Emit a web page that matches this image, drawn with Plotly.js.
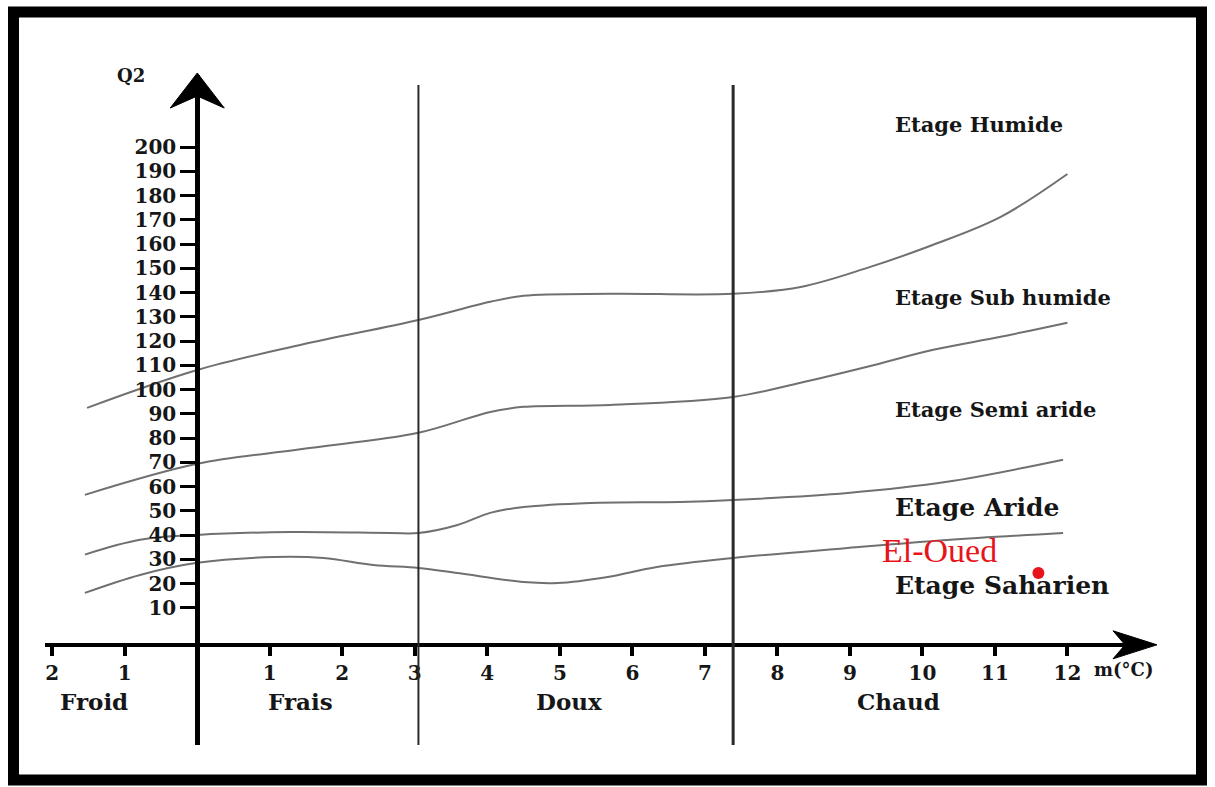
<!DOCTYPE html>
<html>
<head>
<meta charset="utf-8">
<script src="https://cdn.plot.ly/plotly-3.0.1.min.js"></script>
<style>
html,body{margin:0;padding:0;background:#fff;}
#chart{width:1215px;height:787px;}
</style>
</head>
<body>
<div id="chart"></div>
<script>
// ---- data (m in °C, Q2) ----
const humideX    = [-1.52, 0, 1.42, 3.05, 4.04, 4.50, 5.70, 7.39, 8.32, 9.24, 10.15, 11.08, 12.0];
const humideY    = [92.5, 108.1, 118.4, 128.7, 136.2, 138.7, 139.5, 139.5, 142.3, 150.2, 159.7, 171.2, 188.9];

const subHumX    = [-1.55, 0, 1.42, 3.05, 4.04, 4.50, 5.70, 7.39, 8.32, 9.24, 10.15, 11.08, 12.0];
const subHumY    = [56.6, 69.4, 75.4, 82.2, 90.8, 92.9, 93.7, 97.0, 102.8, 109.4, 116.4, 121.8, 127.6];

const semiAridX  = [-1.55, -0.79, 0, 1.28, 2.66, 3.05, 3.59, 4.04, 4.50, 5.42, 6.66, 7.39, 8.97, 10.34, 11.94];
const semiAridY  = [32.0, 38.1, 40.1, 41.3, 40.9, 40.9, 44.2, 49.2, 51.6, 53.3, 53.7, 54.5, 57.4, 62.0, 71.1];

const aridX      = [-1.55, -0.79, 0, 1.05, 1.74, 2.43, 3.05, 3.59, 4.50, 4.97, 5.66, 6.34, 7.39, 8.97, 10.34, 11.94];
const aridY      = [16.2, 23.6, 28.6, 31.0, 30.6, 27.7, 26.5, 24.4, 20.7, 20.3, 22.8, 26.9, 30.6, 34.7, 38.0, 40.9];

const stationName = ["El-Oued"];
const stationM    = [11.6];
const stationQ2   = [24.4];

const boundaries  = [3.05, 7.39];

const yTicks      = [10,20,30,40,50,60,70,80,90,100,110,120,130,140,150,160,170,180,190,200];
const xTickVals   = [-2,-1,1,2,3,4,5,6,7,8,9,10,11,12];
const xTickText   = ["2","1","1","2","3","4","5","6","7","8","9","10","11","12"];

const thermalNames = ["Froid","Frais","Doux","Chaud"];
const etageNames   = ["Etage Humide","Etage Sub humide","Etage Semi aride","Etage Aride","Etage Saharien"];

// ---- layout geometry ----
const X_MIN = -2.1, X_MAX = 13.07;
const Y_MIN = -46.5, Y_MAX = 229.7;
const X_AXIS_AT = -5.2;   // Q2 value where the m axis is drawn
const M = {l:45, r:70, t:75, b:42};
const PW = 1215 - M.l - M.r, PH = 787 - M.t - M.b;
const px2paperX = p => (p - M.l) / PW;
const px2paperY = p => (787 - M.b - p) / PH;

const SERIF_B = {family:"DejaVu Serif", weight:"bold", color:"#161616"};
const curveLine = {color:"#707070", width:2, shape:"spline", smoothing:1};

const traces = [
  {x:humideX, y:humideY, mode:"lines", line:curveLine, hoverinfo:"skip"},
  {x:subHumX, y:subHumY, mode:"lines", line:curveLine, hoverinfo:"skip"},
  {x:semiAridX, y:semiAridY, mode:"lines", line:curveLine, hoverinfo:"skip"},
  {x:aridX, y:aridY, mode:"lines", line:curveLine, hoverinfo:"skip"},
  {x:stationM, y:stationQ2, mode:"markers", text:stationName,
   marker:{color:"#e8141c", size:12, symbol:"circle"}}
];

const shapes = [];
boundaries.forEach((b,i) => shapes.push({
  type:"line", xref:"x", yref:"y", x0:b, x1:b, y0:Y_MIN, y1:225.6,
  line:{color:"#2a2a2a", width: i===0 ? 2 : 3}
}));
// arrow heads
shapes.push({type:"path", xref:"x", yref:"paper", xsizemode:"pixel", ysizemode:"pixel",
  xanchor:0, yanchor:1, path:"M0,2 L-27,-33 L0,-21 L27,-33 Z",
  fillcolor:"#000", line:{color:"#000", width:1}});
shapes.push({type:"path", xref:"paper", yref:"y", xsizemode:"pixel", ysizemode:"pixel",
  xanchor:1, yanchor:X_AXIS_AT, path:"M12,0 L-32,14 L-20,0 L-32,-14 Z",
  fillcolor:"#000", line:{color:"#000", width:1}});
// frame
shapes.push({type:"rect", xref:"paper", yref:"paper",
  x0:px2paperX(13.5), x1:px2paperX(1201.5), y0:px2paperY(780), y1:px2paperY(12),
  line:{color:"#000", width:11}, fillcolor:"rgba(0,0,0,0)"});

const etageX = 9.6;
const etageY = [209.5, 137.8, 92.0, 51.6, 19.1];
const etageSize = [21, 21, 21, 25, 25];
const thermalX = [-1.43, 1.42, 5.13, 9.67];

const annotations = [];
etageNames.forEach((t,i) => annotations.push({
  x:etageX, y:etageY[i], xref:"x", yref:"y", text:t, showarrow:false,
  xanchor:"left", yanchor:"middle", font:Object.assign({}, SERIF_B, {size:etageSize[i]})
}));
thermalNames.forEach((t,i) => annotations.push({
  x:thermalX[i], y:-28.6, xref:"x", yref:"y", text:t, showarrow:false,
  xanchor:"center", yanchor:"middle", font:Object.assign({}, SERIF_B, {size:23})
}));
annotations.push({x:9.42, y:33.5, xref:"x", yref:"y", text:stationName[0], showarrow:false,
  xanchor:"left", yanchor:"middle", font:{family:"Liberation Serif", size:34, color:"#e8141c"}});
annotations.push({x:-0.92, y:229.3, xref:"x", yref:"y", text:"Q2", showarrow:false,
  xanchor:"center", yanchor:"middle", font:Object.assign({}, SERIF_B, {size:18})});
annotations.push({x:12.34, y:-15.5, xref:"x", yref:"y", text:"m(°C)", showarrow:false,
  xanchor:"left", yanchor:"middle", font:Object.assign({}, SERIF_B, {size:18})});

const layout = {
  width:1215, height:787, margin:M,
  paper_bgcolor:"#fff", plot_bgcolor:"#fff", showlegend:false,
  xaxis:{range:[X_MIN, X_MAX], showgrid:false, zeroline:false,
    anchor:"free", position:(X_AXIS_AT - Y_MIN)/(Y_MAX - Y_MIN),
    showline:true, linecolor:"#000", linewidth:4,
    ticks:"outside", ticklen:9, tickwidth:4, tickcolor:"#000",
    tickmode:"array", tickvals:xTickVals, ticktext:xTickText,
    tickfont:Object.assign({}, SERIF_B, {size:20})},
  yaxis:{range:[Y_MIN, Y_MAX], showgrid:false, zeroline:false,
    anchor:"free", position:(0 - X_MIN)/(X_MAX - X_MIN),
    showline:true, linecolor:"#000", linewidth:5,
    ticks:"outside", ticklen:15, tickwidth:3, tickcolor:"#000",
    tickmode:"array", tickvals:yTicks,
    tickfont:Object.assign({}, SERIF_B, {size:20})},
  shapes:shapes, annotations:annotations
};

Plotly.newPlot("chart", traces, layout, {displayModeBar:false, staticPlot:true});
</script>
</body>
</html>
